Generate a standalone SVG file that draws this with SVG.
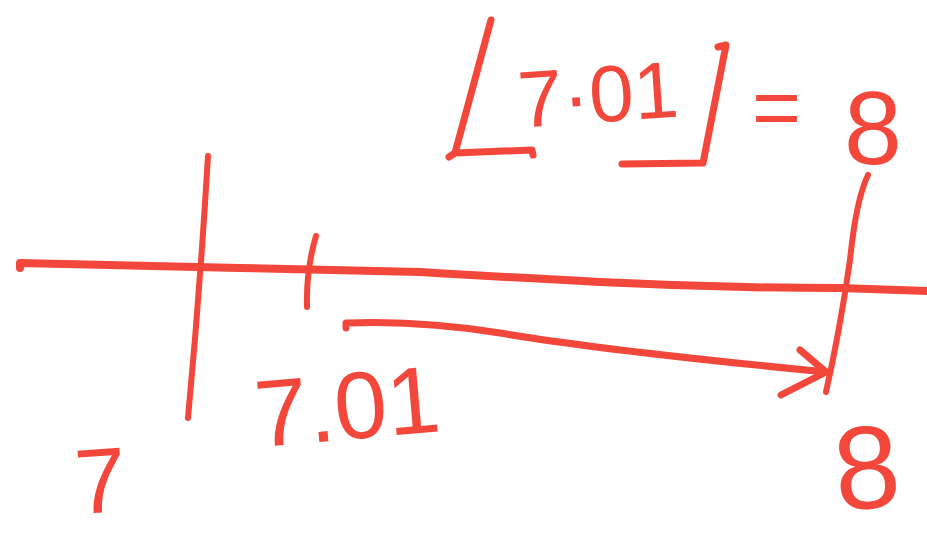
<svg xmlns="http://www.w3.org/2000/svg" width="927" height="537" viewBox="0 0 927 537">
<style>
.s{fill:none;stroke:#f2473a;stroke-linecap:round;stroke-linejoin:round}
.t{fill:#f2473a;font-family:"Liberation Sans",Arial,sans-serif}
</style>
<rect width="927" height="537" fill="#ffffff"/>
<g id="axis">
<path class="s" stroke-width="8" d="M20,268 L20,263 Q120,265 240,268 Q330,270 420,272 Q520,278 600,282 Q720,288 840,288 L927,291"/>
<path class="s" stroke-width="6" d="M208,156 Q200,290 188,418"/>
<path class="s" stroke-width="6" d="M316,236 Q306,270 307,307"/>
<path class="s" stroke-width="6" d="M868,175 Q856,200 850,260 Q840,330 826,392"/>
</g>
<g id="arrow">
<path class="s" stroke-width="7" d="M346,328 L346,323 Q420,320 500,333 Q600,350 826,372"/>
<path class="s" stroke-width="7" d="M800,350 L826,372 L781,395"/>
</g>
<g id="labels">
<text class="t" x="75" y="512" font-size="92" transform="rotate(-4 110 480)">7</text>
<text class="t" x="256" y="440" font-size="95" transform="rotate(-5 340 420)">7.01</text>
<text class="t" x="834" y="508" font-size="118" transform="rotate(-5 870 470)">8</text>
</g>
<g id="equation">
<path class="s" stroke-width="7" d="M491,20 L455,153 L449,157 M455,153 L532,150 L533,155"/>
<path class="s" stroke-width="7" d="M718,47 L726,45 L703,163 L622,164"/>
<text class="t" x="518" y="122" font-size="80" transform="rotate(-4 600 95)">7·01</text>
<text class="t" x="752" y="136" font-size="84">=</text>
<text class="t" x="844" y="164" font-size="104">8</text>
</g>
</svg>
